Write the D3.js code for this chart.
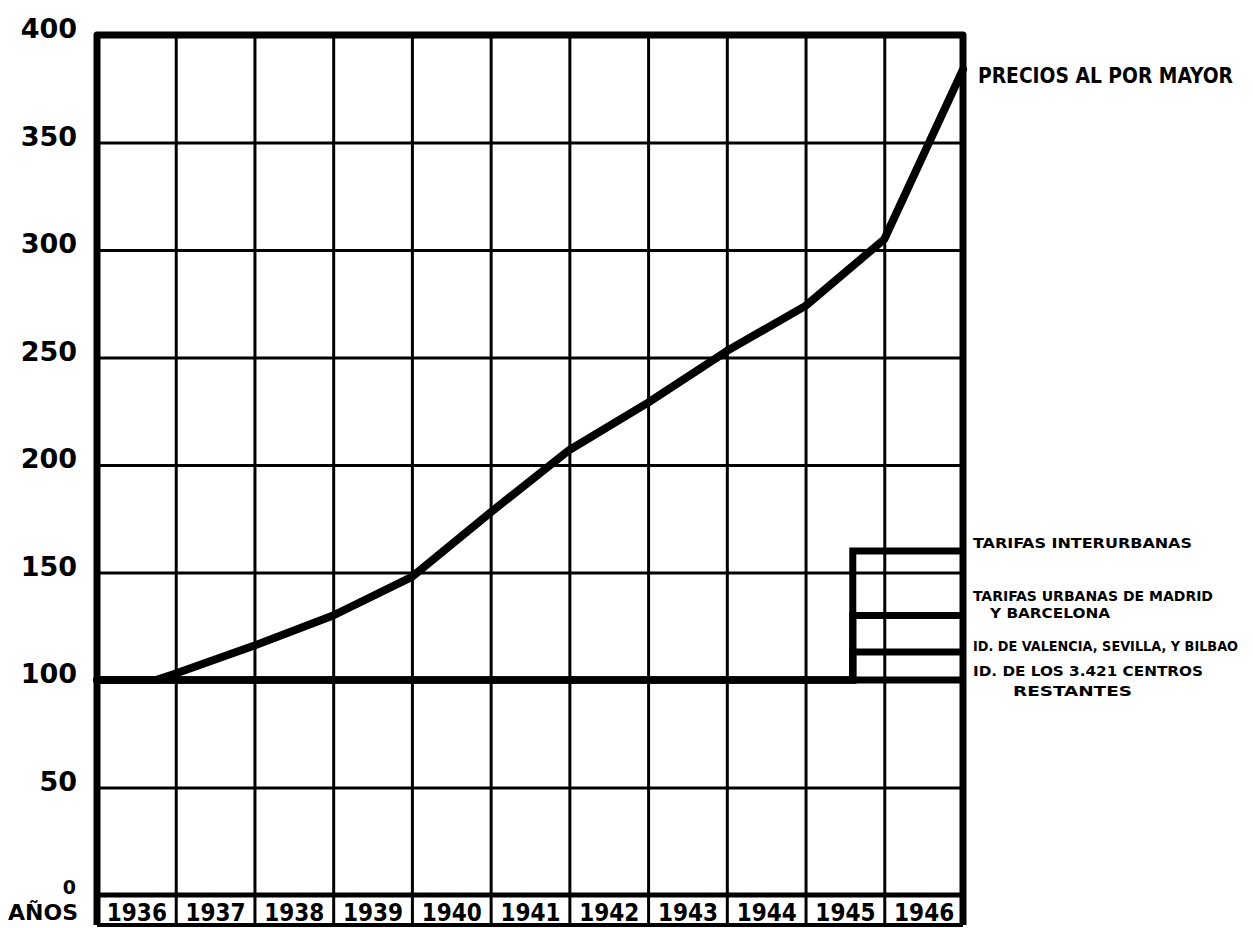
<!DOCTYPE html>
<html>
<head>
<meta charset="utf-8">
<script src="https://cdn.jsdelivr.net/npm/d3@7"></script>
<style>
    body { margin: 0; background: #fff; }
    svg { display: block; }
</style>
</head>
<body>
<div id="chart"></div>
<script>
// years shown in the bottom row
const years = [1936, 1937, 1938, 1939, 1940, 1941, 1942, 1943, 1944, 1945, 1946];
const yTicks = [0, 50, 100, 150, 200, 250, 300, 350, 400];

const priceYears  = [1936, 1936.75, 1937, 1938, 1939, 1940, 1941, 1942, 1943, 1944, 1945, 1946, 1947];
const priceValues = [100,  100,     103,  116,  130,  148,  178,  207,  229,  253,  274,  305,  384];
const priceLabel = 'PRECIOS AL POR MAYOR';

// telephone tariffs: stay at 100 until the rise in 1945
const tariffBase = 100;
const tariffRise = 1945.6;
const tariffValues = [160, 130, 113, 100];
const tariffLabels = [
    ['TARIFAS INTERURBANAS'],
    ['TARIFAS URBANAS DE MADRID', 'Y BARCELONA'],
    ['ID. DE VALENCIA, SEVILLA, Y BILBAO'],
    ['ID. DE LOS 3.421 CENTROS', 'RESTANTES']
];
const xAxisTitle = 'AÑOS';

const W = 1253, H = 928;
const plotLeft = 97, plotRight = 963, plotTop = 35, plotBottom = 895, rowBottom = 925;

const svg = d3.select('#chart').append('svg')
    .attr('width', W)
    .attr('height', H);

const x = d3.scaleLinear().domain([1936, 1947]).range([plotLeft, plotRight]);
const y = d3.scaleLinear().domain([0, 400]).range([plotBottom, plotTop]);

const boldFont = "'DejaVu Sans', sans-serif";
const condFont = "'DejaVu Sans Condensed', 'DejaVu Sans', sans-serif";

// horizontal grid
svg.append('g')
    .attr('transform', `translate(${plotLeft},0)`)
    .call(d3.axisLeft(y).tickValues(yTicks.slice(1, -1)).tickSize(-(plotRight - plotLeft)).tickFormat(''))
    .call(g => g.select('.domain').remove())
    .selectAll('line')
    .attr('stroke', '#000')
    .attr('stroke-width', 3);

// vertical grid, runs down through the year row
svg.append('g')
    .attr('transform', `translate(0,${rowBottom})`)
    .call(d3.axisBottom(x).tickValues(years.slice(1)).tickSize(-(rowBottom - plotTop)).tickFormat(''))
    .call(g => g.select('.domain').remove())
    .selectAll('line')
    .attr('stroke', '#000')
    .attr('stroke-width', 3);

// zero line / top of the year row
svg.append('line')
    .attr('x1', plotLeft).attr('x2', plotRight)
    .attr('y1', y(0)).attr('y2', y(0))
    .attr('stroke', '#000')
    .attr('stroke-width', 5);

// bottom of the year row
svg.append('line')
    .attr('x1', plotLeft).attr('x2', plotRight)
    .attr('y1', rowBottom).attr('y2', rowBottom)
    .attr('stroke', '#000')
    .attr('stroke-width', 4);

// frame
svg.append('path')
    .attr('d', `M${plotLeft},${rowBottom}V${plotTop}H${plotRight}V${rowBottom}`)
    .attr('fill', 'none')
    .attr('stroke', '#000')
    .attr('stroke-width', 7)
    .attr('stroke-linejoin', 'round');

// y labels
const yLabels = svg.append('g')
    .attr('transform', `translate(77,0)`)
    .call(d3.axisLeft(y).tickValues(yTicks).tickSize(0).tickPadding(0))
    .call(g => g.select('.domain').remove());

yLabels.selectAll('text')
    .attr('font-family', boldFont)
    .attr('font-weight', 'bold')
    .attr('font-size', 27)
    .attr('fill', '#000')
    .attr('dy', '0.1em')
    .filter(d => d === 0)
    .attr('font-size', 19)
    .attr('dx', -1)
    .attr('dy', '-0.1em');

// year labels
svg.append('g')
    .attr('transform', `translate(0,${plotBottom})`)
    .call(d3.axisBottom(x).tickValues(years.map(d => d + 0.5)).tickSize(0).tickPadding(0)
        .tickFormat(d => String(Math.floor(d))))
    .call(g => g.select('.domain').remove())
    .selectAll('text')
    .attr('dy', 0)
    .attr('y', 26)
    .attr('font-family', condFont)
    .attr('font-weight', 'bold')
    .attr('font-size', 24)
    .attr('fill', '#000');

svg.append('text')
    .attr('x', 78)
    .attr('y', 920)
    .attr('text-anchor', 'end')
    .attr('font-family', boldFont)
    .attr('font-weight', 'bold')
    .attr('font-size', 22)
    .text(xAxisTitle);

// tariff lines
const line = d3.line()
    .x(d => x(d[0]))
    .y(d => y(d[1]));

svg.selectAll('.tariff')
    .data(tariffValues)
    .enter()
    .append('path')
    .attr('class', 'tariff')
    .attr('d', v => line([[1936, tariffBase], [tariffRise, tariffBase], [tariffRise, v], [1947, v]]))
    .attr('fill', 'none')
    .attr('stroke', '#000')
    .attr('stroke-width', 7)
    .attr('stroke-linejoin', 'miter');

// price line
svg.append('path')
    .attr('d', line(priceYears.map((d, i) => [d, priceValues[i]])))
    .attr('fill', 'none')
    .attr('stroke', '#000')
    .attr('stroke-width', 8)
    .attr('stroke-linejoin', 'round')
    .attr('stroke-linecap', 'round');

// labels on the right
svg.append('text')
    .attr('x', 978)
    .attr('y', 83)
    .attr('font-family', condFont)
    .attr('font-weight', 'bold')
    .attr('font-size', 21)
    .attr('textLength', 255)
    .attr('lengthAdjust', 'spacingAndGlyphs')
    .text(priceLabel);

// baseline y, x and width of each line of the legend texts
const labelLayout = [
    [[548, 973, 219]],
    [[601, 973, 240], [618, 990, 120]],
    [[651, 973, 265]],
    [[676, 973, 230], [696, 1013, 119]]
];

tariffLabels.forEach((lines, i) => {
    lines.forEach((t, j) => {
        const [by, bx, bw] = labelLayout[i][j];
        svg.append('text')
            .attr('x', bx)
            .attr('y', by)
            .attr('font-family', condFont)
            .attr('font-weight', 'bold')
            .attr('font-size', 14)
            .attr('textLength', bw)
            .attr('lengthAdjust', 'spacingAndGlyphs')
            .text(t);
    });
});
</script>
</body>
</html>
